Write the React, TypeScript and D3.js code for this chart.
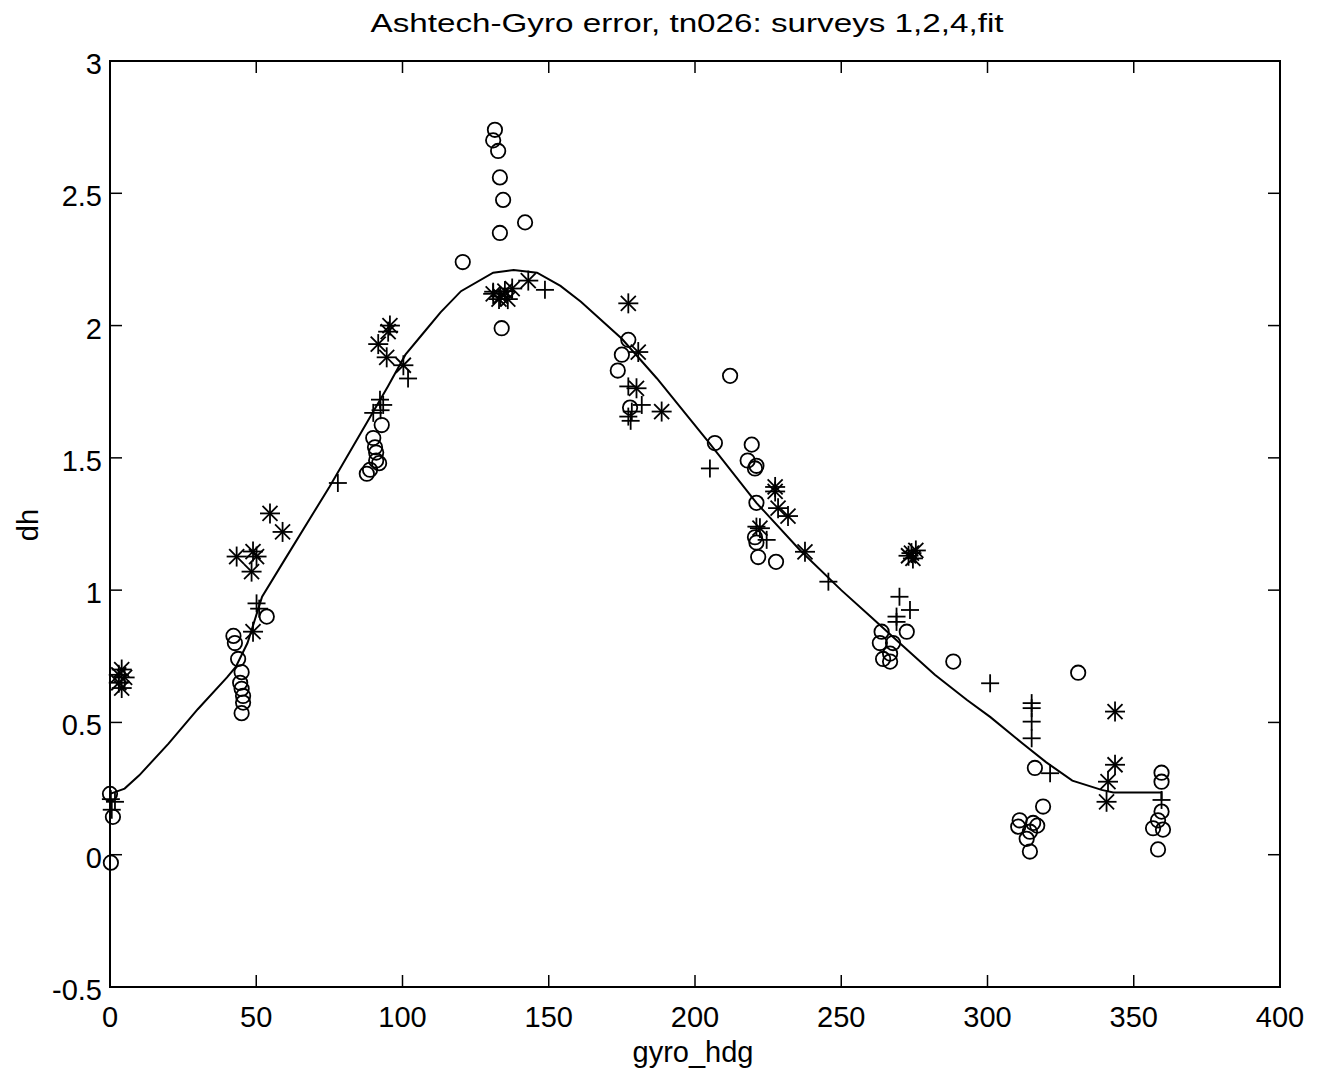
import React from "react";
import * as d3 from "d3";

const title = "Ashtech-Gyro error, tn026: surveys 1,2,4,fit";
const xLabel = "gyro_hdg";
const yLabel = "dh";
const xTicks = [0, 50, 100, 150, 200, 250, 300, 350, 400];
const yTicks = [-0.5, 0, 0.5, 1, 1.5, 2, 2.5, 3];

// survey "o"
const circles: [number, number][] = [
  [0, 0.23], [1, 0.143], [0.3, -0.03],
  [42.2, 0.827], [42.7, 0.8], [43.8, 0.74], [45, 0.69], [44.5, 0.65], [45, 0.627], [45.5, 0.6], [45.5, 0.575], [45, 0.535], [53.6, 0.9],
  [92.9, 1.624], [90, 1.575], [90.6, 1.54], [91, 1.52], [91, 1.49], [92, 1.48], [88.9, 1.455], [87.8, 1.44],
  [131.6, 2.74], [131, 2.7], [132.7, 2.66], [133.3, 2.56], [134.4, 2.475], [141.9, 2.39], [133.3, 2.35], [120.6, 2.24], [133.9, 1.99],
  [177.2, 1.946], [175, 1.89], [173.6, 1.83], [177.8, 1.69], [212, 1.81], [206.8, 1.556],
  [219.4, 1.55], [218, 1.49], [221, 1.47], [220.5, 1.46], [221, 1.33], [220.5, 1.2], [221, 1.18], [221.6, 1.125], [227.7, 1.107],
  [263.8, 0.843], [263.2, 0.8], [272.4, 0.843], [267.7, 0.8], [266.7, 0.76], [264.3, 0.74], [266.7, 0.73], [288.3, 0.73],
  [331, 0.688], [316.2, 0.328], [319, 0.182], [311, 0.13], [310.5, 0.106], [315.6, 0.12], [314.5, 0.087], [313.4, 0.06], [314.5, 0.012], [317, 0.11],
  [359.5, 0.31], [359.5, 0.276], [359.5, 0.163], [358.3, 0.13], [356.6, 0.1], [360, 0.095], [358.3, 0.02],
];

// survey "*"
const stars: [number, number][] = [
  [3, 0.68], [4, 0.7], [5, 0.67], [3, 0.65], [4, 0.63],
  [43.3, 1.127], [48.9, 1.146], [50.1, 1.127], [48.4, 1.07], [54.7, 1.29], [59, 1.22], [48.9, 0.843],
  [95.7, 2.0], [95.1, 1.977], [91.7, 1.93], [94.6, 1.88], [100.3, 1.85],
  [131, 2.12], [133.5, 2.11], [135, 2.13], [137.5, 2.14], [136, 2.1], [133, 2.1], [143, 2.17],
  [177.2, 2.084], [180.6, 1.9], [180, 1.763], [188.6, 1.675],
  [227.4, 1.39], [227.4, 1.373], [228.4, 1.31], [231.8, 1.28], [222.2, 1.234], [237.6, 1.145],
  [274, 1.14], [275.5, 1.15], [274.5, 1.12], [273, 1.13],
  [343.6, 0.541], [343.6, 0.34], [341.2, 0.276], [340.7, 0.2],
];

// survey "+"
const pluses: [number, number][] = [
  [0.3, 0.21], [1.7, 0.2], [0.6, 0.17],
  [50.1, 0.95], [51, 0.93],
  [77.9, 1.405],
  [92.3, 1.72], [93.4, 1.7], [92.5, 1.68], [90, 1.67], [101.9, 1.8],
  [148.7, 2.135], [131, 2.128],
  [177.2, 1.77], [181.8, 1.7], [178.4, 1.675], [177.2, 1.656], [178, 1.64],
  [205.1, 1.46], [221, 1.24], [224.5, 1.19], [245.6, 1.032],
  [269.9, 0.975], [273.5, 0.925], [268.9, 0.9], [268.9, 0.88],
  [300.9, 0.648],
  [315.1, 0.573], [315.1, 0.554], [315.1, 0.503], [315.1, 0.44], [321.4, 0.308],
  [359.5, 0.207],
];

// fit
const fit: [number, number][] = [
  [0, 0.23], [5, 0.25], [10, 0.3], [20, 0.42], [30, 0.55], [40, 0.67], [43, 0.71], [47, 0.8], [52, 0.975],
  [60, 1.12], [70, 1.3], [75, 1.39], [85, 1.58], [95, 1.77], [101, 1.89], [107, 1.97], [113, 2.05], [120, 2.13],
  [131, 2.2], [138, 2.21], [146, 2.2], [154, 2.15], [161, 2.09], [168, 2.02], [175, 1.95], [187, 1.8],
  [198, 1.65], [205, 1.555], [221, 1.33], [236, 1.15], [250, 1.0], [260, 0.9], [271, 0.79], [282, 0.68],
  [293, 0.585], [301, 0.52], [312, 0.42], [320, 0.35], [329, 0.28], [339, 0.245], [343, 0.235],
  [359.5, 0.235], [359.5, 0.21],
];

const L = 110, R = 1280, T = 61, B = 987;

export default function App() {
  const x = d3.scaleLinear().domain([0, 400]).range([L, R]);
  const y = d3.scaleLinear().domain([-0.5, 3]).range([B, T]);
  const line = d3.line<[number, number]>().x((d) => x(d[0])).y((d) => y(d[1]));
  const font = "Liberation Sans, Arial, sans-serif";
  const tick = 12;
  const sw = 1.8;
  const fs = 29;
  return (
    <svg width={1317} height={1078} style={{ position: "absolute", left: 0, top: 0, background: "#fff" }}>
      <rect x={0} y={0} width={1317} height={1078} fill="#fff" />
      <text x={687} y={32} textAnchor="middle" fontFamily={font} fontSize={26} textLength={633} lengthAdjust="spacingAndGlyphs">{title}</text>
      <rect x={L} y={T} width={R - L} height={B - T} fill="none" stroke="#000" strokeWidth={2} />
      {xTicks.map((t) => (
        <g key={"x" + t}>
          <line x1={x(t)} x2={x(t)} y1={B} y2={B - tick} stroke="#000" strokeWidth={1.5} />
          <line x1={x(t)} x2={x(t)} y1={T} y2={T + tick} stroke="#000" strokeWidth={1.5} />
          <text x={x(t)} y={1027} textAnchor="middle" fontFamily={font} fontSize={fs}>{t}</text>
        </g>
      ))}
      {yTicks.map((t) => (
        <g key={"y" + t}>
          <line x1={L} x2={L + tick} y1={y(t)} y2={y(t)} stroke="#000" strokeWidth={1.5} />
          <line x1={R} x2={R - tick} y1={y(t)} y2={y(t)} stroke="#000" strokeWidth={1.5} />
          <text x={102} y={y(t) + 13} textAnchor="end" fontFamily={font} fontSize={fs}>{t.toString()}</text>
        </g>
      ))}
      <text x={693} y={1062} textAnchor="middle" fontFamily={font} fontSize={fs}>{xLabel}</text>
      <text transform={`translate(38,525) rotate(-90)`} textAnchor="middle" fontFamily={font} fontSize={fs}>{yLabel}</text>
      <path d={line(fit) || ""} fill="none" stroke="#000" strokeWidth={2} />
      {circles.map((d, i) => (
        <circle key={"c" + i} cx={x(d[0])} cy={y(d[1])} r={7.2} fill="none" stroke="#000" strokeWidth={sw} />
      ))}
      {stars.map((d, i) => {
        const cx = x(d[0]), cy = y(d[1]), s = 10, k = 7.5;
        return (
          <g key={"s" + i} stroke="#000" strokeWidth={sw}>
            <line x1={cx - s} x2={cx + s} y1={cy} y2={cy} />
            <line x1={cx} x2={cx} y1={cy - s} y2={cy + s} />
            <line x1={cx - k} x2={cx + k} y1={cy - k} y2={cy + k} />
            <line x1={cx - k} x2={cx + k} y1={cy + k} y2={cy - k} />
          </g>
        );
      })}
      {pluses.map((d, i) => {
        const cx = x(d[0]), cy = y(d[1]), s = 9;
        return (
          <g key={"p" + i} stroke="#000" strokeWidth={sw}>
            <line x1={cx - s} x2={cx + s} y1={cy} y2={cy} />
            <line x1={cx} x2={cx} y1={cy - s} y2={cy + s} />
          </g>
        );
      })}
    </svg>
  );
}
